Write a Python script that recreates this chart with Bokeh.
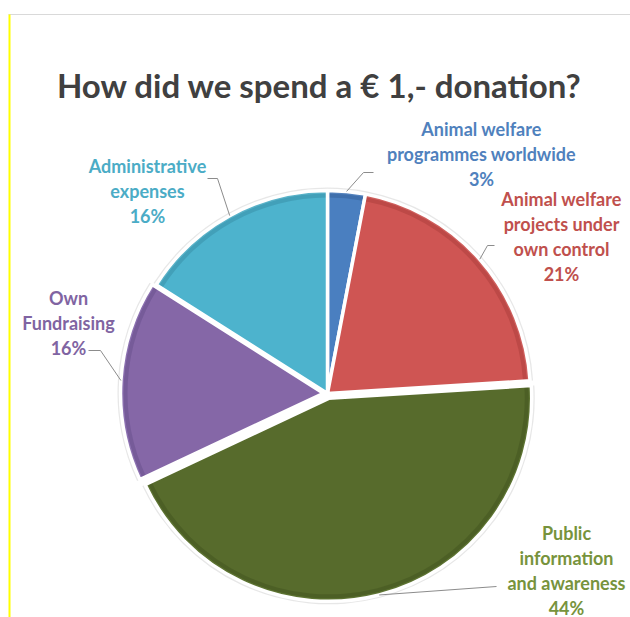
import numpy as np
from bokeh.plotting import figure
from bokeh.models import Range1d
from bokeh.embed import file_html
from bokeh.resources import INLINE
from bokeh.core.properties import value

# ---------------- data ----------------
title_text = "How did we spend a € 1,- donation?"
categories = ["Animal welfare programmes worldwide",
              "Animal welfare projects under own control",
              "Public information and awareness",
              "Own Fundraising",
              "Administrative expenses"]
label_lines = [["Animal welfare", "programmes worldwide"],
               ["Animal welfare", "projects under", "own control"],
               ["Public", "information", "and awareness"],
               ["Own", "Fundraising"],
               ["Administrative", "expenses"]]
percent = [3, 21, 44, 16, 16]

# ---------------- style / layout ----------------
slice_colors = ["#4A7FC0", "#CF5553", "#576B2C", "#8567A7", "#4DB3CD"]
rim_colors = ["#2C5488", "#9A3432", "#3A4A1A", "#5C4480", "#2D7F96"]
light_colors = ["#7BA6DC", "#F08A88", "#7F9A4A", "#B89BE0", "#86D3E6"]
label_colors = ["#4F81BD", "#C0504D", "#77933C", "#8064A2", "#4BACC6"]
W, H = 630, 617
CX, CY, R = 327, 393, 203
explode = [0, 0, 5, 4, 0]
label_pos = [(481, 128), (561, 198), (566, 532), (68, 297), (147, 165)]
line_gap = 25
leaders = [[(363, 172), (373, 172)],
           [(487, 245), (494, 245)],
           [(496, 586)],
           [(100, 350), (88, 350)],
           [(217, 178), (207, 178)]]
FONT = "Lato"

def fy(y):
    return H - y  # image-y -> data-y

p = figure(width=W, height=H, output_backend="svg", toolbar_location=None,
           x_range=Range1d(0, W), y_range=Range1d(0, H),
           min_border=0, outline_line_color=None, background_fill_color="white")
p.axis.visible = False
p.grid.visible = False

# frame lines
p.segment(x0=[8], y0=[fy(14)], x1=[W], y1=[fy(14)], line_color="#D9D9D9", line_width=1)
p.segment(x0=[9], y0=[fy(14)], x1=[9], y1=[fy(617)], line_color="#FFFF00", line_width=2)

# title
p.text(x=[319], y=[fy(84)], text=[title_text], text_font=value(FONT), text_font_style="bold",
       text_font_size="33px", text_color="#404040", text_align="center", text_baseline="middle")

# pie
total = float(sum(percent))
cum = 0.0
for i, v in enumerate(percent):
    end = np.pi / 2 - 2 * np.pi * cum / total
    start = end - 2 * np.pi * v / total
    mid = (start + end) / 2
    cum += v
    cx = CX + explode[i] * np.cos(mid)
    cy = fy(CY) + explode[i] * np.sin(mid)
    # soft shadow
    p.wedge(x=[cx], y=[cy], radius=R + 3, start_angle=start, end_angle=end,
            fill_color="#BBBBBB", fill_alpha=0.35, line_color=None)
    p.wedge(x=[cx], y=[cy], radius=R, start_angle=start, end_angle=end,
            fill_color=slice_colors[i], line_color=None)
    # bevel rim
    p.annular_wedge(x=[cx], y=[cy], inner_radius=R - 7, outer_radius=R,
                    start_angle=start, end_angle=end,
                    fill_color=rim_colors[i], fill_alpha=0.35, line_color=None)
    p.annular_wedge(x=[cx], y=[cy], inner_radius=R - 3, outer_radius=R - 1,
                    start_angle=start, end_angle=end,
                    fill_color=light_colors[i], fill_alpha=0.35, line_color=None)
    # white separator
    p.wedge(x=[cx], y=[cy], radius=R, start_angle=start, end_angle=end,
            fill_color=None, line_color="white", line_width=3.5)
    # leader line
    ex = cx + R * np.cos(mid)
    ey = cy + R * np.sin(mid)
    xs = [ex] + [pt[0] for pt in leaders[i]]
    ys = [ey] + [fy(pt[1]) for pt in leaders[i]]
    p.line(x=xs, y=ys, line_color="#8C8C8C", line_width=1)
    # label
    lines = label_lines[i] + ["%d%%" % v]
    lx, ly = label_pos[i]
    p.text(x=[lx] * len(lines), y=[fy(ly + k * line_gap) for k in range(len(lines))], text=lines,
           text_font=value(FONT), text_font_style="bold", text_font_size="18px",
           text_color=label_colors[i], text_align="center", text_baseline="middle")

open("out.html", "w").write(file_html(p, INLINE))
